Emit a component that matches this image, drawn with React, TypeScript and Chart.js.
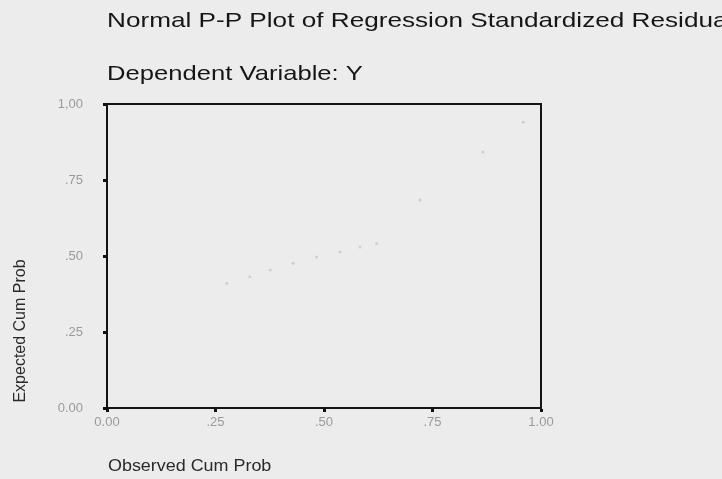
import React, { useEffect, useRef } from "react";
import { Chart, registerables } from "chart.js";

Chart.register(...registerables);

const titleText = "Normal P-P Plot of Regression Standardized Residual";
const subtitleText = "Dependent Variable: Y";
const xAxisTitle = "Observed Cum Prob";
const yAxisTitle = "Expected Cum Prob";

const tickValues = [0, 0.25, 0.5, 0.75, 1];
const xTickLabels = ["0.00", ".25", ".50", ".75", "1.00"];
const yTickLabels = ["0.00", ".25", ".50", ".75", "1,00"];

// faint, washed-out residual points visible in the scan
const observedProb = [0.276, 0.329, 0.376, 0.429, 0.483, 0.537, 0.583, 0.621, 0.721, 0.866, 0.959];
const expectedProb = [0.41, 0.432, 0.454, 0.476, 0.497, 0.513, 0.53, 0.541, 0.684, 0.842, 0.94];

const textPlugin = {
  id: "textPlugin",
  afterDraw(chart: any) {
    const ctx = chart.ctx;
    const area = chart.chartArea;
    ctx.save();
    ctx.fillStyle = "#161616";
    ctx.textBaseline = "alphabetic";
    ctx.textAlign = "left";
    ctx.font = "21px 'Liberation Sans', Arial, sans-serif";
    ctx.save();
    ctx.translate(area.left, 27);
    ctx.scale(1.245, 1);
    ctx.fillText(titleText, 0, 0);
    ctx.restore();
    ctx.save();
    ctx.translate(area.left, 80);
    ctx.scale(1.22, 1);
    ctx.fillText(subtitleText, 0, 0);
    ctx.restore();

    ctx.fillStyle = "#2a2a2a";
    ctx.font = "16px 'Liberation Sans', Arial, sans-serif";
    ctx.save();
    ctx.translate(area.left + 1, 471);
    ctx.scale(1.12, 1);
    ctx.fillText(xAxisTitle, 0, 0);
    ctx.restore();

    ctx.save();
    ctx.translate(25, 331);
    ctx.rotate(-Math.PI / 2);
    ctx.textAlign = "center";
    ctx.fillText(yAxisTitle, 0, 0);
    ctx.restore();

    // top and right frame lines
    ctx.strokeStyle = "#141414";
    ctx.lineWidth = 2;
    ctx.beginPath();
    ctx.moveTo(area.left, area.top);
    ctx.lineTo(area.right, area.top);
    ctx.lineTo(area.right, area.bottom);
    ctx.stroke();
    ctx.restore();
  },
};

export default function App() {
  const ref = useRef<HTMLCanvasElement | null>(null);

  useEffect(() => {
    document.body.style.margin = "0";
    document.body.style.background = "#ececec";
    const canvas = ref.current;
    if (!canvas) return;
    const points = observedProb.map((x, i) => ({ x, y: expectedProb[i] }));
    const chart = new Chart(canvas, {
      type: "scatter",
      data: {
        datasets: [
          {
            data: points,
            pointRadius: 1.5,
            pointBackgroundColor: "rgba(195,195,195,0.7)",
            pointBorderWidth: 0,
          },
        ],
      },
      options: {
        responsive: false,
        animation: false,
        layout: { padding: { top: 104, right: 181, left: 0, bottom: 0 } },
        plugins: {
          legend: { display: false },
          tooltip: { enabled: false },
          title: { display: false },
        },
        scales: {
          x: {
            type: "linear",
            min: 0,
            max: 1,
            afterFit(scale: any) {
              scale.height = 71;
            },
            afterBuildTicks(scale: any) {
              scale.ticks = tickValues.map((v) => ({ value: v }));
            },
            grid: {
              drawOnChartArea: false,
              drawTicks: true,
              tickLength: 4,
              tickColor: "#111",
              tickWidth: 3,
            },
            border: { display: true, color: "#141414", width: 2 },
            ticks: {
              padding: 3,
              color: "#9a9a9a",
              font: { family: "'Liberation Sans', Arial, sans-serif", size: 13 },
              maxRotation: 0,
              callback: (_v: any, i: number) => xTickLabels[i],
            },
          },
          y: {
            type: "linear",
            min: 0,
            max: 1,
            afterFit(scale: any) {
              scale.width = 107;
            },
            afterBuildTicks(scale: any) {
              scale.ticks = tickValues.map((v) => ({ value: v }));
            },
            grid: {
              drawOnChartArea: false,
              drawTicks: true,
              tickLength: 4,
              tickColor: "#111",
              tickWidth: 3,
            },
            border: { display: true, color: "#141414", width: 2 },
            ticks: {
              padding: 20,
              color: "#9a9a9a",
              font: { family: "'Liberation Sans', Arial, sans-serif", size: 13 },
              callback: (_v: any, i: number) => yTickLabels[i],
            },
          },
        },
      },
      plugins: [textPlugin],
    });
    return () => chart.destroy();
  }, []);

  return (
    <canvas
      ref={ref}
      width={722}
      height={479}
      style={{ display: "block", width: "722px", height: "479px" }}
    />
  );
}
